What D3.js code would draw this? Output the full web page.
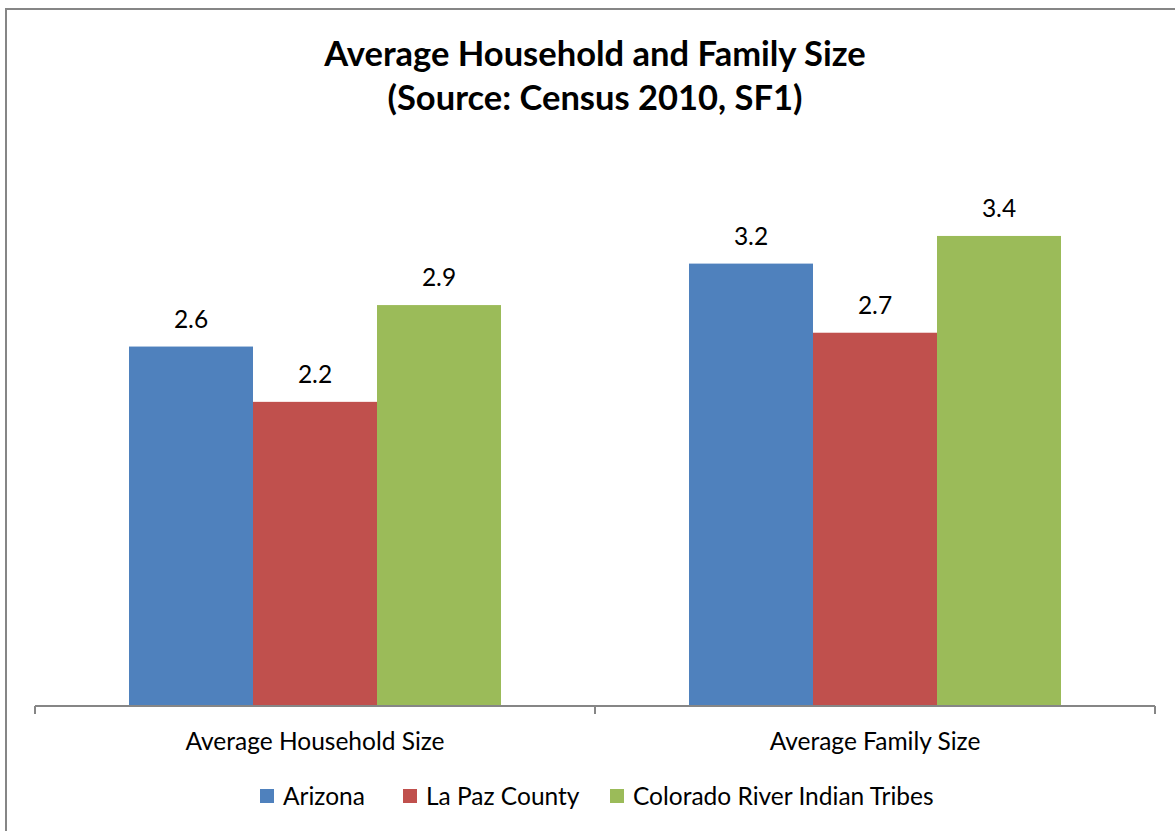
<!DOCTYPE html>
<html>
<head>
<meta charset="utf-8">
<script src="https://cdn.jsdelivr.net/npm/d3@7"></script>
<style>
  body { margin: 0; background: #fff; }
  svg { display: block; }
  text { font-family: Lato, "Open Sans", sans-serif; fill: #000; }
</style>
</head>
<body>
<script>
// chart data
const categories = ["Average Household Size", "Average Family Size"];
const seriesNames = ["Arizona", "La Paz County", "Colorado River Indian Tribes"];
const seriesColors = ["#4F81BD", "#C0504D", "#9BBB59"];
const arizona = [2.6, 3.2];
const laPaz = [2.2, 2.7];
const crit = [2.9, 3.4];
const titleLines = ["Average Household and Family Size", "(Source: Census 2010, SF1)"];

const seriesValues = [arizona, laPaz, crit];

const width = 1175;
const height = 831;

const svg = d3.select("body").append("svg")
  .attr("width", width)
  .attr("height", height);

// outer chart border
svg.append("rect")
  .attr("x", 6)
  .attr("y", 9)
  .attr("width", width + 10)
  .attr("height", height + 10)
  .attr("fill", "none")
  .attr("stroke", "#868686")
  .attr("stroke-width", 2);

// title
svg.append("g").selectAll("text")
  .data(titleLines)
  .enter()
    .append("text")
    .attr("x", 595)
    .attr("y", function (d, i) { return 66 + i * 44; })
    .attr("text-anchor", "middle")
    .attr("font-size", 34.5)
    .attr("font-weight", "bold")
    .text(function (d) { return d; });

// scales
const x0 = d3.scaleBand()
  .domain(categories)
  .range([35, 1155]);

const x1 = d3.scaleBand()
  .domain(seriesNames)
  .range([0, x0.bandwidth()])
  .paddingOuter(0.758);

const y = d3.scaleLinear()
  .domain([0, 4])
  .range([706, 153]);

// bars
const groups = svg.append("g").selectAll("g")
  .data(seriesNames)
  .enter()
    .append("g")
    .attr("fill", function (d, i) { return seriesColors[i]; });

groups.selectAll("rect")
  .data(function (d, i) {
    return categories.map(function (c, j) { return { cat: c, series: d, value: seriesValues[i][j] }; });
  })
  .enter()
    .append("rect")
    .attr("x", function (d) { return x0(d.cat) + x1(d.series); })
    .attr("width", x1.bandwidth())
    .attr("y", function (d) { return y(d.value); })
    .attr("height", function (d) { return y(0) - y(d.value); });

// value labels
groups.selectAll("text")
  .data(function (d, i) {
    return categories.map(function (c, j) { return { cat: c, series: d, value: seriesValues[i][j] }; });
  })
  .enter()
    .append("text")
    .attr("x", function (d) { return x0(d.cat) + x1(d.series) + x1.bandwidth() / 2; })
    .attr("y", function (d) { return y(d.value) - 19; })
    .attr("text-anchor", "middle")
    .attr("font-size", 24.5)
    .style("fill", "#000")
    .text(function (d) { return d3.format(".1f")(d.value); });

// x axis
const xAxis = svg.append("g")
  .attr("transform", "translate(0," + y(0) + ")");

xAxis.append("line")
  .attr("x1", 35)
  .attr("x2", 1155)
  .attr("stroke", "#868686")
  .attr("stroke-width", 2);

xAxis.selectAll(".tick")
  .data([35, 595, 1155])
  .enter()
    .append("line")
    .attr("x1", function (d) { return d; })
    .attr("x2", function (d) { return d; })
    .attr("y1", 0)
    .attr("y2", 8)
    .attr("stroke", "#868686")
    .attr("stroke-width", 2);

xAxis.selectAll(".label")
  .data(categories)
  .enter()
    .append("text")
    .attr("x", function (d) { return x0(d) + x0.bandwidth() / 2; })
    .attr("y", 44)
    .attr("text-anchor", "middle")
    .attr("font-size", 24.5)
    .text(function (d) { return d; });

// legend
const legendX = [260, 403, 610];
const legend = svg.append("g").selectAll("g")
  .data(seriesNames)
  .enter()
    .append("g")
    .attr("transform", function (d, i) { return "translate(" + legendX[i] + ",0)"; });

legend.append("rect")
  .attr("y", 789)
  .attr("width", 14)
  .attr("height", 14)
  .attr("fill", function (d, i) { return seriesColors[i]; });

legend.append("text")
  .attr("x", 23)
  .attr("y", 805)
  .attr("font-size", 24.5)
  .text(function (d) { return d; });
</script>
</body>
</html>
